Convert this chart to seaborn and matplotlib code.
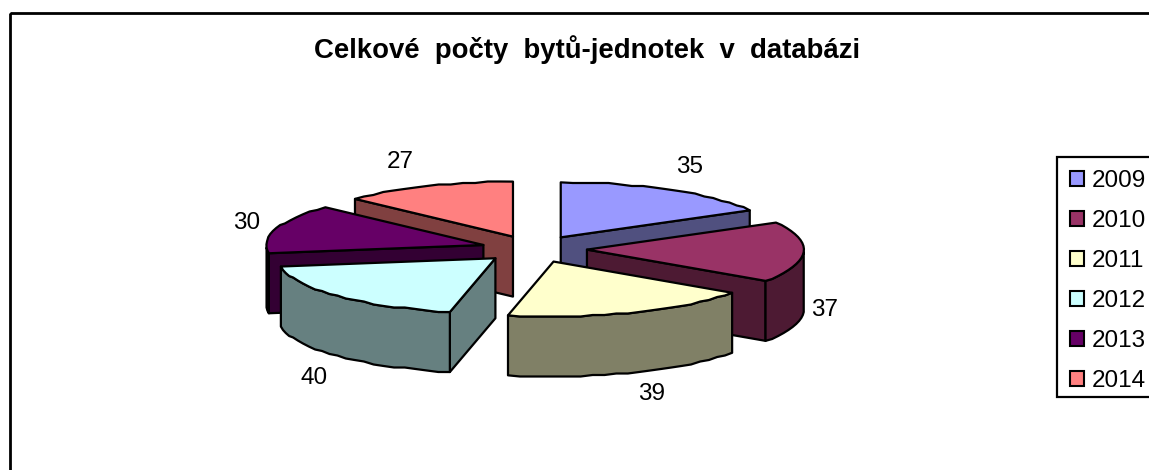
import numpy as np
import seaborn as sns
import matplotlib.pyplot as plt
from matplotlib.patches import Patch, Rectangle

years = ['2009', '2010', '2011', '2012', '2013', '2014']
values = [35, 37, 39, 40, 30, 27]
top_colors = ['#9999FF', '#993366', '#FFFFCC', '#CCFFFF', '#660066', '#FF8080']
side_colors = ['#50507F', '#4D1A33', '#808066', '#668080', '#330033', '#804040']

# pie geometry in pixels (the excel 3d look: flattened ellipse + extruded wall)
cx, cy = 534, 249
rx, ry = 217, 55
ex, ey = 53, 13.5
depth = 60
label_pos = [(690, 167), (825, 310), (652, 394), (314, 378), (247, 223), (400, 162)]

sns.set_style('white')
plt.rcParams['font.family'] = ['Liberation Sans', 'DejaVu Sans']

fig = plt.figure(figsize=(11.49, 4.70), dpi=100)
ax = fig.add_axes([0, 0, 1, 1])
ax.set_xlim(0, 1149)
ax.set_ylim(470, 0)
ax.axis('off')

# chart border, runs off the right and bottom edge like the original
ax.add_patch(Rectangle((10, 13), 1200, 500, fill=False, ec='black', lw=2, zorder=1))

angles = np.cumsum([0] + values) / sum(values) * 2 * np.pi


def rim(x0, y0, a0, a1):
    # points snapped to a small grid, gives the slightly bumpy edge of the original
    t = np.linspace(a0, a1, max(int(np.degrees(a1 - a0) / 3), 2))
    x = x0 + rx * np.sin(t)
    y = y0 - ry * np.cos(t)
    y[1:-1] = np.round(y[1:-1] / 1.5) * 1.5
    return t, x, y


# back slices first so the front ones overlap them
order = [0, 5, 4, 1, 3, 2]
for z, i in enumerate(order):
    a0, a1 = angles[i], angles[i + 1]
    mid = (a0 + a1) / 2
    x0 = cx + ex * np.sin(mid)
    y0 = cy - ey * np.cos(mid)
    t, xs, ys = rim(x0, y0, a0, a1)
    style = dict(ec='black', lw=1.6, joinstyle='round', zorder=2 + z)

    # flat walls, only the ones turned to the viewer
    if np.cos(a0 - np.pi / 2) < 0:
        ax.fill([x0, xs[0], xs[0], x0], [y0, ys[0], ys[0] + depth, y0 + depth], fc=side_colors[i], **style)
    if np.cos(a1 + np.pi / 2) < 0:
        ax.fill([x0, xs[-1], xs[-1], x0], [y0, ys[-1], ys[-1] + depth, y0 + depth], fc=side_colors[i], **style)

    # curved outer wall
    front = np.cos(t) <= 0
    if front.sum() > 1:
        wx, wy = xs[front], ys[front]
        ax.fill(np.r_[wx, wx[::-1]], np.r_[wy, wy[::-1] + depth], fc=side_colors[i], **style)

    ax.fill(np.r_[x0, xs], np.r_[y0, ys], fc=top_colors[i], **style)

for v, (lx, ly) in zip(values, label_pos):
    ax.text(lx, ly, str(v), fontsize=17.5, ha='center', va='center', color='black')

ax.text(587, 58, 'Celkové  počty  bytů-jednotek  v  databázi', fontsize=19.8, fontweight='bold',
        ha='center', va='baseline', color='black')

# legend frame drawn by hand, it is cut by the right edge in the original
ax.add_patch(Rectangle((1057, 157), 200, 240, fc='white', ec='black', lw=1.6, zorder=19))
handles = [Patch(fc=c, ec='black', lw=1.5) for c in top_colors]
leg = ax.legend(handles, years, loc='upper left', bbox_to_anchor=(1058, 158), bbox_transform=ax.transData,
                fontsize=17.5, frameon=False, labelcolor='black',
                handlelength=0.58, handleheight=0.58, handletextpad=0.29, labelspacing=0.74, borderpad=0.5,
                borderaxespad=0)
leg.set_zorder(20)

plt.savefig('out.png', dpi=100)
